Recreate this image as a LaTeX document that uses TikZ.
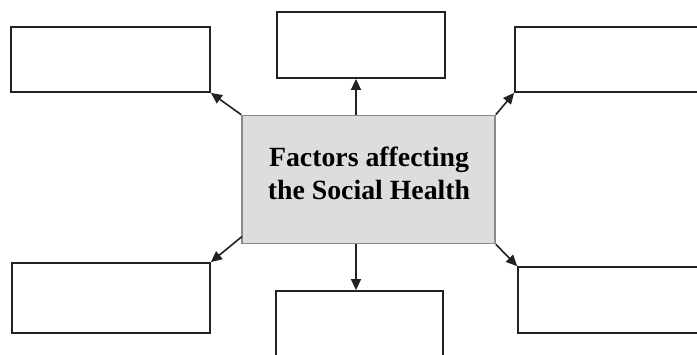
\documentclass[tikz,border=0pt]{standalone}
\usepackage{fontspec}
\setmainfont{Liberation Serif}
\usetikzlibrary{arrows.meta}
\definecolor{boxgray}{HTML}{DCDDDF}
\definecolor{edgegray}{HTML}{8A8A8A}
\definecolor{ink}{HTML}{222222}
\tikzset{
  emptybox/.style={draw=ink, line width=1.8bp, fill=white, inner sep=0pt},
  centerbox/.style={draw=edgegray, line width=1.6bp, fill=boxgray, inner sep=0pt,
    minimum width=253bp, minimum height=128bp},
  centertext/.style={align=center, inner sep=0pt,
    font=\fontsize{27.8bp}{33bp}\selectfont\bfseries},
  conn/.style={draw=ink, line width=1.6bp, -{Triangle[length=11bp,width=10bp]}}
}
\begin{document}
\begin{tikzpicture}[x=1bp,y=-1bp]
\useasboundingbox (0,0) rectangle (697,354);
\clip (0,0) rectangle (697,354);
\fill[white] (0,0) rectangle (697,354);
\node[centerbox] (c) at (368.5,179.5) {};
\node[centertext] (ctext) at (369,173) {Factors affecting\\the Social Health};
\node[emptybox, minimum width=199bp, minimum height=65bp] (tl) at (110.5,59.5) {};
\node[emptybox, minimum width=168bp, minimum height=66bp] (tc) at (361,45) {};
\node[emptybox, minimum width=210bp, minimum height=65bp] (tr) at (620,59.5) {};
\node[emptybox, minimum width=198bp, minimum height=70bp] (bl) at (111,298) {};
\node[emptybox, minimum width=167bp, minimum height=80bp] (bc) at (359.5,331) {};
\node[emptybox, minimum width=210bp, minimum height=66bp] (br) at (623,300) {};
\coordinate (ax) at (356,0);
\coordinate (blstart) at (242,236.5);
\draw[conn] (c.north west) -- (tl.south east);
\draw[conn] (c.north -| ax) -- (tc.south -| ax);
\draw[conn] (c.north east) -- (tr.south west);
\draw[conn] (blstart) -- (bl.north east);
\draw[conn] (c.south -| ax) -- (bc.north -| ax);
\draw[conn] (c.south east) -- (br.north west);
\end{tikzpicture}
\end{document}
